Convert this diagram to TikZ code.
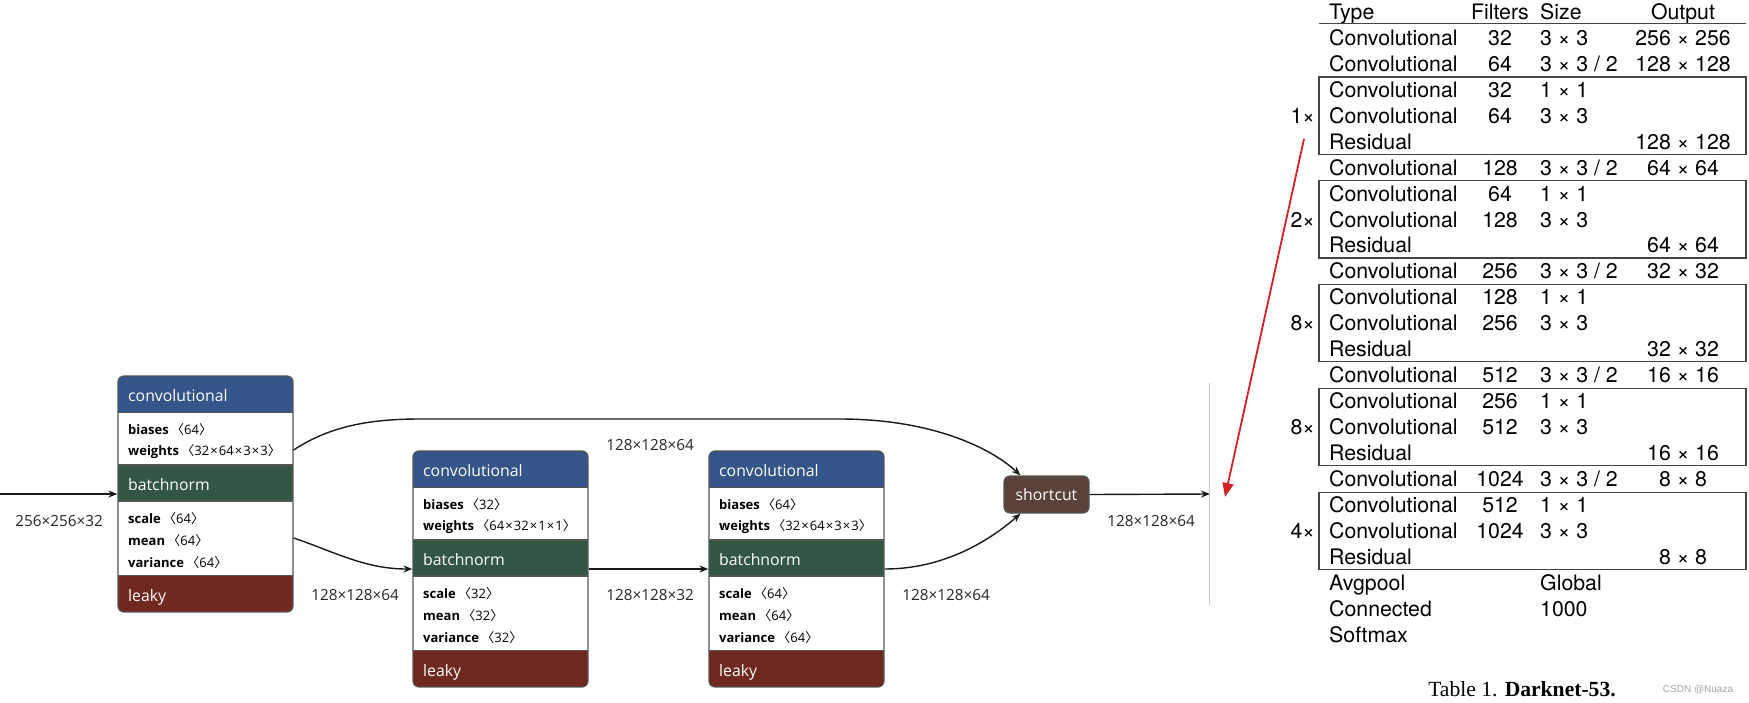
\documentclass[tikz,border=0pt]{standalone}
\usepackage{fontspec}
\usetikzlibrary{arrows.meta,calc}
\newfontfamily\netfont{Open Sans}
\newfontfamily\tabfont{TeX Gyre Heros}
\newfontfamily\capfont{Liberation Serif}
\newfontfamily\wmfont{Liberation Sans}
\newfontfamily\cjk{Noto Sans CJK SC}
\definecolor{convblue}{HTML}{335588}
\definecolor{bngreen}{HTML}{335544}
\definecolor{leakyred}{HTML}{702921}
\definecolor{scbrown}{HTML}{5A4139}
\definecolor{framegray}{HTML}{555555}
\definecolor{redarrow}{HTML}{D42027}
\definecolor{tabgray}{HTML}{444444}

\newcommand\ang[1]{\kern-1pt{\cjk 〈}#1{\cjk 〉}}
\newcommand\tx{\kern1.1pt×\kern1.1pt}

\tikzset{
  hdr/.style={anchor=base west, inner sep=0pt, text=white, font=\netfont\fontsize{15.8}{18}\selectfont},
  prm/.style={anchor=base west, inner sep=0pt, text=black, font=\netfont\fontsize{13}{15}\selectfont},
  lbl/.style={anchor=base, inner sep=0pt, text=black!85, font=\netfont\fontsize{15.3}{17}\selectfont},
  blockframe/.style={draw=framegray, line width=1.2pt, rounded corners=6pt, minimum width=175pt, minimum height=236pt, inner sep=0pt},
  scnode/.style={draw=framegray, line width=1.2pt, rounded corners=6pt, fill=scbrown, minimum width=85pt, minimum height=37pt, inner sep=0pt, text=white, font=\netfont\fontsize{15.8}{18}\selectfont},
  edge/.style={draw=black!90, line width=1.4pt, -{Stealth[length=9pt,width=7pt]}},
  sepline/.style={draw=framegray, line width=1.2pt},
  tcell/.style={inner sep=0pt, text=black, font=\tabfont\fontsize{21.3}{24}\selectfont},
  tbox/.style={draw=tabgray, line width=1.1pt},
}

% name, x, top, biases, weights, scale, mean, variance
\newcommand\dblock[8]{%
  \begin{scope}[shift={(#2,#3)}]
    \begin{scope}
      \clip[rounded corners=6pt] (0,0) rectangle (175,236);
      \fill[convblue] (0,0) rectangle (175,36.5);
      \fill[white] (0,36.5) rectangle (175,89);
      \fill[bngreen] (0,89) rectangle (175,125);
      \fill[white] (0,125) rectangle (175,199.5);
      \fill[leakyred] (0,199.5) rectangle (175,236);
    \end{scope}
    \draw[sepline] (0,36.5) -- (175,36.5);
    \draw[sepline] (0,89) -- (175,89);
    \draw[sepline] (0,125) -- (175,125);
    \draw[sepline] (0,199.5) -- (175,199.5);
    \node[hdr] (#1conv) at (10,25) {convolutional};
    \node[prm] (#1bias) at (10,58) {{\bfseries biases} \ang{#4}};
    \node[prm] (#1wt) at (10,79.5) {{\bfseries weights} \ang{#5}};
    \node[hdr] (#1bn) at (10,114) {batchnorm};
    \node[prm] (#1sc) at (10,147) {{\bfseries scale} \ang{#6}};
    \node[prm] (#1mn) at (10,169) {{\bfseries mean} \ang{#7}};
    \node[prm] (#1var) at (10,191) {{\bfseries variance} \ang{#8}};
    \node[hdr] (#1lk) at (10,225) {leaky};
    \node[blockframe] (#1) at (87.5,118) {};
  \end{scope}}

% row, type, filters, size, output
\newcommand\trow[5]{%
  \node[tcell, anchor=base west] (ty#1) at (1329,{19.5+25.94*#1}) {#2};
  \if\relax\detokenize{#3}\relax\else
    \node[tcell, anchor=base] (fi#1) at (1500,{19.5+25.94*#1}) {#3};\fi
  \if\relax\detokenize{#4}\relax\else
    \node[tcell, anchor=base west] (sz#1) at (1540,{19.5+25.94*#1}) {#4};\fi
  \if\relax\detokenize{#5}\relax\else
    \node[tcell, anchor=base] (ou#1) at (1683,{19.5+25.94*#1}) {#5};\fi}

% box over rows a..b with multiplier label
\newcommand\tgroup[4]{%
  \draw[tbox] (1319,{19.5+25.94*#1-20.3}) rectangle (1746,{19.5+25.94*#2+5});
  \node[tcell, anchor=base east] (mul#4) at (1315,{19.5+25.94*(#1+1)}) {#3};}

\begin{document}
\begin{tikzpicture}[x=1pt,y=-1pt]
\useasboundingbox (0,0) rectangle (1749,702);
\fill[white] (0,0) rectangle (1749,702);

% ---------- network graph ----------
\dblock{b1}{118}{376}{64}{32\tx 64\tx 3\tx 3}{64}{64}{64}
\dblock{b2}{413}{451}{32}{64\tx 32\tx 1\tx 1}{32}{32}{32}
\dblock{b3}{709}{451}{64}{32\tx 64\tx 3\tx 3}{64}{64}{64}

\node[scnode] (sc) at (1046.5,494.5) {shortcut};

\coordinate (in) at (0,494);
\coordinate (out) at (1210,494);

\draw[edge] (in) -- (b1.west);
\draw[edge] ($(b1.east)+(0,-44)$) .. controls (330,426) and (370,419) .. (420,419)
   -- (840,419) .. controls (930,419) and (990,447) .. ($(sc.north)+(-26,0)$);
\draw[edge] ($(b1.east)+(0,44)$) .. controls (335,552) and (365,569) .. (b2.west);
\draw[edge] (b2.east) -- (b3.west);
\draw[edge] (b3.east) .. controls (945,569) and (990,540) .. ($(sc.south)+(-26,0)$);
\draw[edge] (sc.east) -- (out);

\node[lbl] (l0) at (59,526) {256×256×32};
\node[lbl] (l1) at (355,600) {128×128×64};
\node[lbl] (l2) at (650,450) {128×128×64};
\node[lbl] (l3) at (650,600) {128×128×32};
\node[lbl] (l4) at (946,600) {128×128×64};
\node[lbl] (l5) at (1151,526) {128×128×64};

% separator line
\coordinate (vt) at (1209,383);
\coordinate (vb) at (1209,605);
\draw[black!22, line width=1pt] (vt) -- (vb);

% red arrow
\coordinate (rs) at (1304,139);
\coordinate (re) at (1225,497);
\draw[redarrow, line width=1.8pt, -{Triangle[length=14pt,width=11pt]}] (rs) -- (re);

% ---------- table ----------
\node[tcell, anchor=base west] (hty) at (1329,19.5) {Type};
\node[tcell, anchor=base] (hfi) at (1500,19.5) {Filters};
\node[tcell, anchor=base west] (hsz) at (1540,19.5) {Size};
\node[tcell, anchor=base] (hou) at (1683,19.5) {Output};
\draw[tabgray, line width=1.1pt] (1319,23.5) -- (1746,23.5);

\trow{1}{Convolutional}{32}{3 × 3}{256 × 256}
\trow{2}{Convolutional}{64}{3 × 3 / 2}{128 × 128}
\trow{3}{Convolutional}{32}{1 × 1}{}
\trow{4}{Convolutional}{64}{3 × 3}{}
\trow{5}{Residual}{}{}{128 × 128}
\trow{6}{Convolutional}{128}{3 × 3 / 2}{64 × 64}
\trow{7}{Convolutional}{64}{1 × 1}{}
\trow{8}{Convolutional}{128}{3 × 3}{}
\trow{9}{Residual}{}{}{64 × 64}
\trow{10}{Convolutional}{256}{3 × 3 / 2}{32 × 32}
\trow{11}{Convolutional}{128}{1 × 1}{}
\trow{12}{Convolutional}{256}{3 × 3}{}
\trow{13}{Residual}{}{}{32 × 32}
\trow{14}{Convolutional}{512}{3 × 3 / 2}{16 × 16}
\trow{15}{Convolutional}{256}{1 × 1}{}
\trow{16}{Convolutional}{512}{3 × 3}{}
\trow{17}{Residual}{}{}{16 × 16}
\trow{18}{Convolutional}{1024}{3 × 3 / 2}{8 × 8}
\trow{19}{Convolutional}{512}{1 × 1}{}
\trow{20}{Convolutional}{1024}{3 × 3}{}
\trow{21}{Residual}{}{}{8 × 8}
\trow{22}{Avgpool}{}{Global}{}
\trow{23}{Connected}{}{1000}{}
\trow{24}{Softmax}{}{}{}

\tgroup{3}{5}{1×}{a}
\tgroup{7}{9}{2×}{b}
\tgroup{11}{13}{8×}{c}
\tgroup{15}{17}{8×}{d}
\tgroup{19}{21}{4×}{e}

\node[anchor=base, inner sep=0pt, font=\capfont\fontsize{21.6}{24}\selectfont] (cap) at (1522,696) {Table 1. \textbf{Darknet-53.}};
\node[anchor=base, inner sep=0pt, text=black!35, font=\wmfont\fontsize{10}{12}\selectfont] (wm) at (1698,692) {CSDN @Nuaza};
\end{tikzpicture}
\end{document}
